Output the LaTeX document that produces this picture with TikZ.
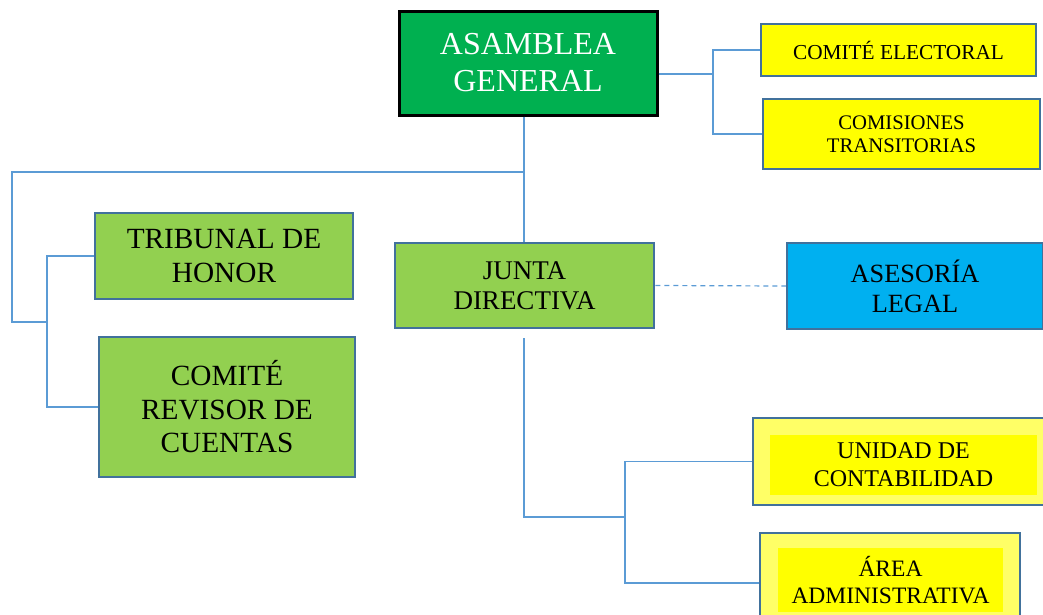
\documentclass[tikz,border=0pt]{standalone}
\usepackage{fontspec}
\setmainfont{Liberation Serif}
\definecolor{agreen}{HTML}{00B050}
\definecolor{lgreen}{HTML}{92D050}
\definecolor{byel}{HTML}{FFFF00}
\definecolor{pyel}{HTML}{FFFF66}
\definecolor{cyanb}{HTML}{00B0F0}
\definecolor{bordc}{HTML}{41719C}
\definecolor{linec}{HTML}{5B9BD5}
\tikzset{
  orgbox/.style={draw=bordc, line width=2.5pt, align=center, inner sep=0pt},
  conn/.style={draw=linec, line width=1.2pt},
  fs/.style 2 args={font=\fontsize{#1}{#2}\selectfont}
}
\begin{document}
\begin{tikzpicture}[x=1pt,y=-1pt]
\useasboundingbox (0,0) rectangle (1043,614);
\clip (0,0) rectangle (1043,614);
% boxes
\node[orgbox, draw=black, line width=3pt, fill=agreen, text=white, minimum width=258pt, minimum height=104pt, fs={32}{37}] (ag) at (528,63) {ASAMBLEA\\GENERAL};
\node[orgbox, fill=byel, minimum width=275pt, minimum height=52pt, fs={21.3}{24}] (ce) at (898.5,50) {COMITÉ ELECTORAL};
\node[orgbox, fill=byel, minimum width=277pt, minimum height=70pt, fs={20.7}{23.5}] (ct) at (901.5,134) {COMISIONES\\TRANSITORIAS};
\node[orgbox, fill=lgreen, minimum width=258pt, minimum height=86pt, fs={29.3}{34}] (th) at (224,256) {TRIBUNAL DE\\HONOR};
\node[orgbox, fill=lgreen, minimum width=256pt, minimum height=140pt, fs={29.3}{33.5}] (cr) at (227,407) {COMITÉ\\REVISOR DE\\CUENTAS};
\node[orgbox, fill=lgreen, minimum width=259pt, minimum height=85pt, fs={27}{30}] (jd) at (524.5,285.5) {JUNTA\\DIRECTIVA};
\node[orgbox, fill=cyanb, minimum width=256pt, minimum height=86pt, fs={26.3}{30}] (al) at (915,286) {ASESORÍA\\LEGAL};
\node[orgbox, fill=pyel, minimum width=292pt, minimum height=87pt] (ucbox) at (899,461.5) {};
\node[fill=byel, minimum width=267pt, minimum height=60pt, inner sep=0pt, align=center, fs={24}{28}] (uc) at (903.5,465) {UNIDAD DE\\CONTABILIDAD};
\node[orgbox, fill=pyel, minimum width=260pt, minimum height=100pt] (aabox) at (890,583) {};
\node[fill=byel, minimum width=225pt, minimum height=64pt, inner sep=0pt, align=center, fs={23.5}{27}] (aa) at (890.5,580) {ÁREA\\ADMINISTRATIVA};
% connector points
\coordinate (b1) at (713,74);
\coordinate (t1) at (524,172);
\coordinate (l1) at (12,322);
\coordinate (l2) at (47,322);
\coordinate (j1) at (524,338);
\coordinate (j2) at (524,517);
\coordinate (j3) at (625,517);
% connectors
\draw[conn] (ag.east |- b1) -- (b1);
\draw[conn] (ce.west) -| (b1) |- (ct.west);
\draw[conn] (ag.south -| t1) -- (jd.north -| t1);
\draw[conn] (t1) -| (l1) -- (l2);
\draw[conn] (th.west) -| (l2) |- (cr.west);
\draw[conn] (j1) -- (j2) -- (j3);
\draw[conn] (ucbox.west) -| (j3) |- (aabox.west);
\draw[conn, dashed, dash pattern=on 5pt off 4pt] (jd.east) -- (al.west);
\end{tikzpicture}
\end{document}
